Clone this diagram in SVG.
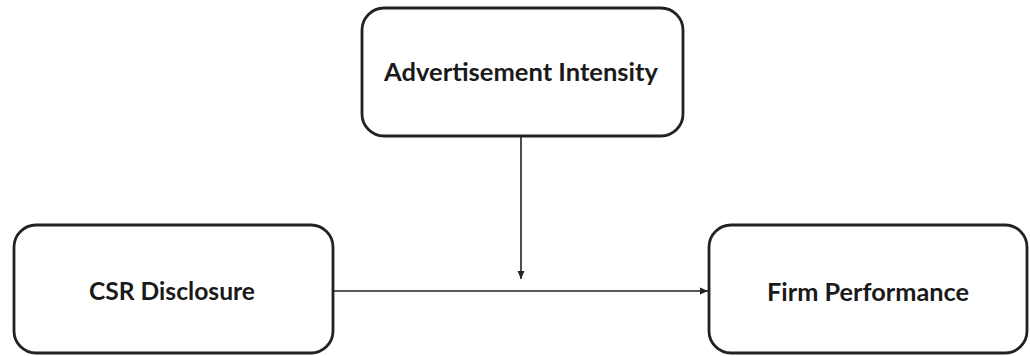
<svg xmlns="http://www.w3.org/2000/svg" width="1030" height="356" viewBox="0 0 1030 356">
<style>
.box{fill:#fff;stroke:#222;stroke-width:2.8}
.lbl{font-family:Lato,"Open Sans","Liberation Sans",sans-serif;font-weight:bold;font-size:25px;fill:#1a1a1a;text-anchor:middle}
.conn{stroke:#222;stroke-width:1.6;fill:none}
</style>
<defs>
<marker id="ah" markerWidth="8" markerHeight="8" refX="8" refY="4" orient="auto" markerUnits="userSpaceOnUse">
<path d="M0,0.5 L8,4 L0,7.5 Z" fill="#222"/>
</marker>
</defs>
<rect width="1030" height="356" fill="#fff"/>
<g id="node-advertisement">
<rect class="box" x="362" y="8" width="321" height="128" rx="22"/>
<text class="lbl" x="521" y="81" textLength="274" lengthAdjust="spacingAndGlyphs">Advertisement Intensity</text>
</g>
<g id="node-csr">
<rect class="box" x="14" y="225" width="319" height="128" rx="22"/>
<text class="lbl" x="172" y="300" textLength="166" lengthAdjust="spacingAndGlyphs">CSR Disclosure</text>
</g>
<g id="node-firm">
<rect class="box" x="709" y="225" width="318" height="128" rx="22"/>
<text class="lbl" x="868" y="301" textLength="202" lengthAdjust="spacingAndGlyphs">Firm Performance</text>
</g>
<g id="connectors">
<line class="conn" x1="521" y1="137" x2="521" y2="279" marker-end="url(#ah)"/>
<line class="conn" x1="334" y1="291" x2="708" y2="291" marker-end="url(#ah)"/>
</g>
</svg>
